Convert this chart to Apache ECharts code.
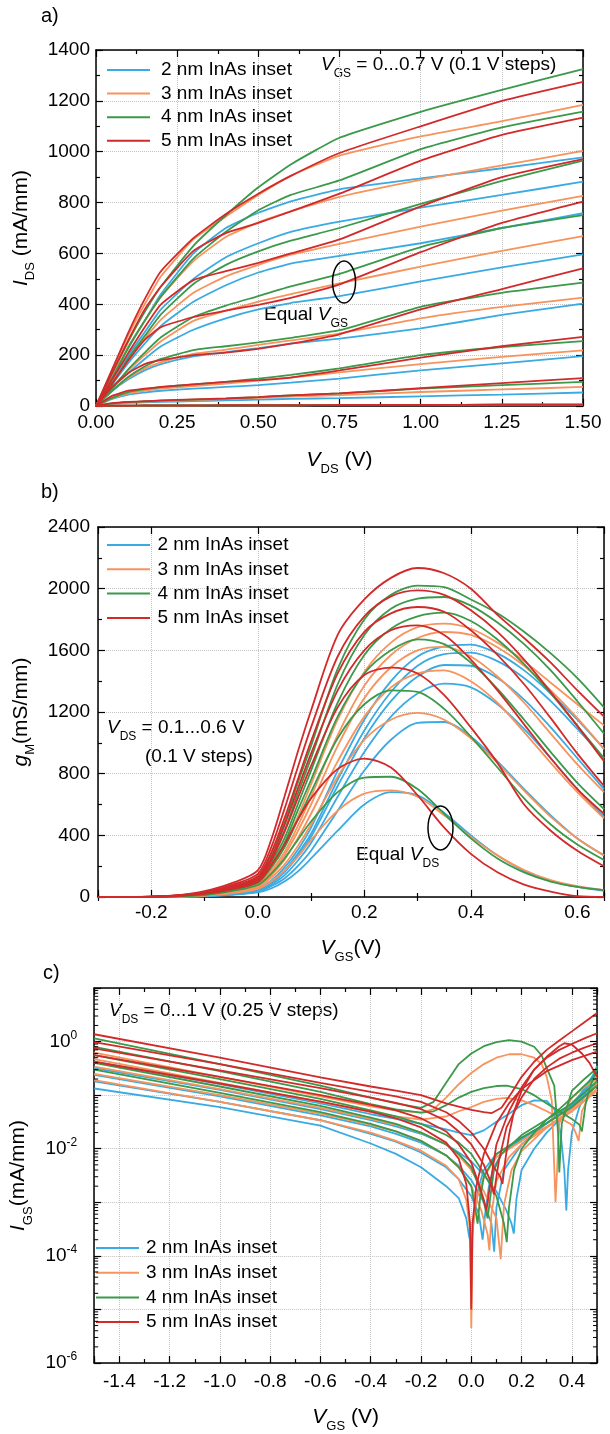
<!DOCTYPE html>
<html>
<head>
<meta charset="utf-8">
<script src="https://cdn.jsdelivr.net/npm/echarts@6/dist/echarts.min.js"></script>
<style>
  html, body { margin: 0; padding: 0; background: #fff; }
  #chart { width: 610px; height: 1434px; }
</style>
</head>
<body>
<div id="chart"></div>
<script>
const FONT = '"Liberation Sans", Arial, Helvetica, sans-serif';
const INK = '#000';
const GRID_LINE = '#c2c2c2';

const insetNames = ['2 nm InAs inset', '3 nm InAs inset', '4 nm InAs inset', '5 nm InAs inset'];
const insetColors = ['#3aabe2', '#f7935c', '#3b994a', '#d22a2a'];

// ---- a) output characteristics, V_GS = 0 ... 0.7 V ----
const vdsSweep = [0, 0.05, 0.1, 0.15, 0.2, 0.3, 0.4, 0.5, 0.6, 0.75, 1.0, 1.25, 1.5];
const idsInset2 = [
  [0, 1, 1, 2, 2, 2, 3, 3, 3, 4, 4, 5, 5],
  [0, 8, 12, 14, 16, 19, 22, 25, 28, 31, 38, 45, 53],
  [0, 28, 45, 53, 60, 68, 75, 82, 92, 108, 140, 168, 196],
  [0, 60, 105, 140, 165, 195, 212, 228, 245, 265, 305, 358, 403],
  [0, 70, 130, 185, 235, 300, 345, 380, 405, 432, 490, 545, 596],
  [0, 85, 170, 245, 315, 410, 475, 525, 560, 590, 640, 700, 758],
  [0, 100, 200, 290, 380, 500, 585, 640, 685, 725, 780, 830, 882],
  [0, 115, 230, 335, 440, 600, 700, 760, 805, 852, 895, 935, 978]
];
const idsInset3 = [
  [0, 1, 1, 2, 2, 2, 3, 3, 3, 4, 4, 5, 5],
  [0, 9, 14, 17, 19, 23, 27, 32, 37, 43, 55, 65, 75],
  [0, 30, 50, 60, 68, 78, 88, 100, 112, 132, 165, 193, 219],
  [0, 62, 110, 148, 172, 205, 222, 240, 258, 285, 345, 390, 426],
  [0, 72, 140, 200, 255, 335, 375, 410, 440, 482, 548, 610, 668],
  [0, 90, 185, 265, 340, 445, 510, 555, 595, 638, 705, 768, 826],
  [0, 115, 235, 335, 430, 570, 665, 722, 765, 822, 889, 946, 1003],
  [0, 140, 280, 400, 510, 655, 745, 830, 905, 985, 1060, 1120, 1184]
];
const idsInset4 = [
  [0, 1, 1, 2, 2, 2, 3, 3, 3, 4, 4, 5, 5],
  [0, 10, 15, 18, 21, 25, 29, 35, 42, 50, 68, 82, 95],
  [0, 32, 55, 66, 74, 85, 95, 108, 122, 148, 200, 232, 255],
  [0, 60, 115, 155, 185, 220, 235, 250, 268, 298, 390, 445, 485],
  [0, 70, 145, 210, 270, 350, 395, 432, 470, 520, 625, 700, 751],
  [0, 85, 190, 275, 360, 480, 555, 608, 650, 700, 795, 885, 965],
  [0, 110, 230, 335, 430, 580, 685, 770, 830, 887, 1010, 1096, 1158],
  [0, 130, 255, 370, 470, 630, 750, 860, 950, 1055, 1157, 1243, 1325]
];
const idsInset5 = [
  [0, 1, 1, 2, 2, 2, 3, 3, 3, 4, 4, 5, 5],
  [0, 11, 16, 19, 22, 26, 30, 35, 42, 50, 70, 90, 110],
  [0, 40, 60, 68, 75, 85, 95, 102, 112, 140, 190, 235, 272],
  [0, 75, 130, 165, 180, 200, 210, 225, 245, 282, 380, 460, 541],
  [0, 90, 180, 260, 310, 350, 375, 398, 425, 478, 605, 720, 804],
  [0, 105, 210, 310, 400, 495, 530, 563, 600, 655, 785, 900, 971],
  [0, 130, 260, 380, 470, 610, 680, 720, 765, 835, 965, 1066, 1134],
  [0, 145, 290, 420, 530, 660, 755, 835, 905, 995, 1100, 1200, 1275]
];

// ---- b) transconductance, V_DS = 0.1 ... 0.6 V ----
const vgsSweep = [-0.3, -0.2, -0.15, -0.1, -0.05, 0, 0.025, 0.05, 0.075, 0.1, 0.15, 0.2, 0.25, 0.3, 0.35, 0.4, 0.45, 0.5, 0.55, 0.6, 0.65];
const gmInset2 = [
  [0, 1, 2, 5, 14, 30, 55, 100, 165, 250, 430, 600, 680, 660, 545, 400, 270, 170, 105, 65, 40],
  [0, 1, 3, 6, 16, 35, 70, 120, 200, 300, 560, 820, 1020, 1130, 1135, 1040, 880, 700, 530, 380, 270],
  [0, 1, 3, 7, 18, 40, 80, 140, 235, 350, 650, 940, 1170, 1320, 1384, 1360, 1250, 1090, 900, 700, 520],
  [0, 1, 3, 8, 20, 45, 90, 160, 265, 390, 720, 1030, 1270, 1430, 1505, 1500, 1420, 1280, 1100, 900, 700],
  [0, 1, 3, 8, 21, 48, 95, 170, 280, 410, 760, 1080, 1330, 1500, 1575, 1585, 1530, 1420, 1270, 1090, 900],
  [0, 1, 3, 9, 24, 54, 105, 190, 305, 450, 820, 1150, 1400, 1560, 1625, 1637, 1580, 1470, 1320, 1150, 960]
];
const gmInset3 = [
  [0, 1, 4, 9, 24, 52, 100, 170, 260, 370, 560, 670, 692, 650, 530, 390, 270, 175, 110, 70, 45],
  [0, 1, 4, 10, 28, 60, 125, 210, 330, 470, 780, 1020, 1150, 1194, 1150, 1030, 870, 690, 520, 380, 270],
  [0, 1, 4, 11, 31, 68, 140, 240, 380, 540, 880, 1170, 1360, 1450, 1470, 1400, 1260, 1070, 870, 680, 510],
  [0, 1, 4, 12, 34, 76, 155, 270, 425, 600, 980, 1290, 1490, 1600, 1622, 1560, 1430, 1260, 1060, 860, 680],
  [0, 1, 5, 14, 38, 82, 170, 290, 460, 650, 1050, 1370, 1570, 1680, 1719, 1700, 1620, 1500, 1340, 1160, 960],
  [0, 1, 5, 16, 42, 92, 190, 330, 520, 730, 1150, 1460, 1650, 1750, 1773, 1740, 1650, 1530, 1390, 1250, 1113]
];
const gmInset4 = [
  [0, 1, 5, 13, 38, 78, 150, 250, 370, 490, 680, 775, 780, 700, 540, 380, 250, 160, 100, 65, 45],
  [0, 1, 5, 16, 45, 92, 190, 320, 500, 680, 1030, 1250, 1340, 1330, 1220, 1040, 840, 640, 470, 340, 240],
  [0, 1, 6, 18, 50, 100, 210, 350, 560, 760, 1170, 1450, 1600, 1671, 1640, 1520, 1350, 1150, 940, 740, 570],
  [0, 1, 6, 20, 54, 108, 225, 380, 600, 820, 1260, 1570, 1740, 1820, 1844, 1790, 1670, 1510, 1320, 1110, 900],
  [0, 2, 7, 23, 60, 120, 250, 430, 670, 900, 1380, 1700, 1870, 1935, 1946, 1890, 1780, 1640, 1470, 1270, 1060],
  [0, 2, 8, 26, 66, 130, 280, 480, 740, 980, 1480, 1800, 1960, 2020, 2010, 1930, 1840, 1720, 1580, 1420, 1230]
];
const gmInset5 = [
  [0, 2, 7, 20, 50, 98, 205, 340, 500, 640, 830, 897, 840, 660, 450, 280, 160, 80, 35, 5, 0],
  [0, 2, 8, 23, 57, 110, 235, 420, 640, 850, 1230, 1440, 1488, 1450, 1310, 1100, 870, 600, 430, 300, 200],
  [0, 2, 9, 26, 62, 122, 255, 465, 700, 930, 1340, 1600, 1730, 1762, 1700, 1540, 1340, 1120, 900, 700, 540],
  [0, 2, 10, 28, 68, 135, 285, 510, 760, 1010, 1450, 1720, 1840, 1881, 1850, 1730, 1570, 1380, 1160, 930, 720],
  [0, 2, 11, 32, 77, 150, 320, 570, 840, 1100, 1560, 1820, 1950, 1989, 1960, 1860, 1720, 1540, 1330, 1110, 880],
  [0, 3, 12, 38, 88, 172, 370, 650, 940, 1210, 1700, 1930, 2070, 2134, 2100, 2000, 1830, 1680, 1520, 1340, 1170]
];

// ---- c) gate current |I_GS| vs V_GS, V_DS = 0 ... 1 V ----
const igsInset2 = [
  [[-1.5,0.133],[-1.0,0.06],[-0.6,0.027],[-0.4,0.0125],[-0.3,0.008],[-0.2,0.0045],[-0.1,0.002],[-0.05,0.0012],[-0.02,0.0005],[-0.01,0.00025],[0,0.00015],[0.01,0.0005],[0.03,0.002],[0.05,0.004],[0.1,0.008],[0.2,0.016],[0.3,0.03],[0.4,0.06],[0.5,0.16]],
  [[-1.5,0.18],[-1.0,0.075],[-0.6,0.034],[-0.4,0.019],[-0.3,0.0135],[-0.2,0.0085],[-0.1,0.0045],[-0.05,0.0027],[0,0.0013],[0.03,0.0006],[0.045,0.0002],[0.055,0.0006],[0.07,0.002],[0.09,0.0045],[0.12,0.008],[0.2,0.015],[0.3,0.03],[0.4,0.065],[0.5,0.18]],
  [[-1.5,0.24],[-1.0,0.095],[-0.6,0.042],[-0.4,0.026],[-0.3,0.019],[-0.2,0.013],[-0.1,0.0075],[-0.05,0.0048],[0,0.0026],[0.05,0.001],[0.08,0.0004],[0.091,0.00012],[0.1,0.0008],[0.13,0.004],[0.2,0.012],[0.3,0.03],[0.4,0.07],[0.5,0.22]],
  [[-1.5,0.32],[-1.0,0.125],[-0.6,0.055],[-0.4,0.034],[-0.3,0.026],[-0.2,0.019],[-0.1,0.012],[-0.05,0.0085],[0,0.0058],[0.05,0.0032],[0.1,0.0016],[0.14,0.0007],[0.16,0.0004],[0.169,0.00026],[0.18,0.0012],[0.2,0.004],[0.25,0.01],[0.3,0.02],[0.4,0.06],[0.5,0.3]],
  [[-1.5,0.42],[-1.0,0.16],[-0.6,0.07],[-0.4,0.044],[-0.3,0.036],[-0.2,0.029],[-0.1,0.023],[-0.05,0.02],[0,0.018],[0.05,0.022],[0.1,0.032],[0.15,0.045],[0.2,0.065],[0.25,0.08],[0.3,0.078],[0.33,0.055],[0.355,0.02],[0.37,0.004],[0.378,0.0007],[0.385,0.004],[0.4,0.02],[0.43,0.06],[0.46,0.13],[0.5,0.35]]
];
const igsInset3 = [
  [[-1.5,0.19],[-1.0,0.075],[-0.6,0.034],[-0.4,0.02],[-0.3,0.014],[-0.2,0.0092],[-0.1,0.0048],[-0.05,0.0027],[-0.02,0.0011],[-0.005,0.0003],[0,0.0000045],[0.005,0.0003],[0.02,0.0011],[0.05,0.003],[0.1,0.007],[0.2,0.014],[0.3,0.026],[0.4,0.05],[0.5,0.12]],
  [[-1.5,0.25],[-1.0,0.1],[-0.6,0.045],[-0.4,0.028],[-0.3,0.021],[-0.2,0.014],[-0.1,0.0075],[-0.05,0.0045],[0,0.002],[0.04,0.0007],[0.065,0.00025],[0.072,0.000126],[0.08,0.0006],[0.1,0.0025],[0.15,0.007],[0.2,0.012],[0.3,0.025],[0.4,0.05],[0.5,0.13]],
  [[-1.5,0.34],[-1.0,0.13],[-0.6,0.058],[-0.4,0.036],[-0.3,0.028],[-0.2,0.02],[-0.1,0.012],[-0.05,0.0075],[0,0.004],[0.05,0.0016],[0.1,0.0005],[0.117,0.000087],[0.13,0.0009],[0.16,0.004],[0.2,0.009],[0.3,0.025],[0.4,0.055],[0.5,0.15]],
  [[-1.5,0.47],[-1.0,0.17],[-0.6,0.075],[-0.4,0.048],[-0.3,0.04],[-0.2,0.035],[-0.1,0.04],[-0.05,0.05],[0,0.06],[0.05,0.075],[0.1,0.085],[0.14,0.089],[0.2,0.08],[0.25,0.065],[0.3,0.05],[0.35,0.038],[0.4,0.028],[0.415,0.02],[0.427,0.014],[0.44,0.05],[0.47,0.1],[0.5,0.17]],
  [[-1.5,0.62],[-1.0,0.22],[-0.6,0.095],[-0.4,0.062],[-0.3,0.052],[-0.2,0.047],[-0.15,0.055],[-0.1,0.09],[-0.05,0.16],[0,0.26],[0.05,0.38],[0.1,0.5],[0.15,0.58],[0.2,0.58],[0.25,0.5],[0.28,0.38],[0.3,0.22],[0.32,0.08],[0.335,0.001],[0.35,0.03],[0.4,0.09],[0.45,0.14],[0.5,0.2]]
];
const igsInset4 = [
  [[-1.5,0.3],[-1.0,0.11],[-0.6,0.048],[-0.4,0.029],[-0.3,0.021],[-0.2,0.014],[-0.1,0.0075],[-0.05,0.0045],[0,0.002],[0.015,0.0008],[0.025,0.0004],[0.035,0.0012],[0.05,0.003],[0.1,0.008],[0.2,0.016],[0.3,0.03],[0.4,0.06],[0.5,0.15]],
  [[-1.5,0.4],[-1.0,0.145],[-0.6,0.063],[-0.4,0.038],[-0.3,0.029],[-0.2,0.02],[-0.1,0.012],[-0.05,0.008],[0,0.0045],[0.03,0.002],[0.05,0.001],[0.065,0.0005],[0.075,0.0012],[0.09,0.004],[0.12,0.008],[0.2,0.018],[0.3,0.035],[0.4,0.07],[0.5,0.18]],
  [[-1.5,0.56],[-1.0,0.2],[-0.6,0.085],[-0.4,0.052],[-0.3,0.04],[-0.2,0.029],[-0.1,0.018],[-0.05,0.013],[0,0.008],[0.05,0.0035],[0.1,0.0013],[0.13,0.0004],[0.141,0.00018],[0.15,0.0008],[0.17,0.004],[0.2,0.01],[0.25,0.02],[0.3,0.035],[0.35,0.055],[0.4,0.09],[0.45,0.15],[0.5,0.25]],
  [[-1.5,0.8],[-1.0,0.28],[-0.6,0.115],[-0.4,0.068],[-0.3,0.054],[-0.2,0.047],[-0.15,0.05],[-0.1,0.065],[-0.05,0.09],[0,0.115],[0.05,0.135],[0.1,0.148],[0.14,0.15],[0.2,0.13],[0.25,0.1],[0.3,0.07],[0.35,0.05],[0.4,0.036],[0.43,0.028],[0.44,0.021],[0.455,0.07],[0.47,0.13],[0.5,0.32]],
  [[-1.5,1.15],[-1.0,0.38],[-0.6,0.15],[-0.4,0.09],[-0.3,0.07],[-0.2,0.058],[-0.15,0.075],[-0.1,0.17],[-0.05,0.38],[0,0.6],[0.05,0.82],[0.1,0.98],[0.15,1.06],[0.2,1.0],[0.25,0.8],[0.28,0.55],[0.3,0.32],[0.33,0.15],[0.345,0.02],[0.35,0.0036],[0.36,0.03],[0.4,0.12],[0.45,0.2],[0.5,0.32]]
];
const igsInset5 = [
  [[-1.5,0.42],[-1.0,0.165],[-0.6,0.076],[-0.4,0.049],[-0.3,0.037],[-0.2,0.025],[-0.1,0.013],[-0.05,0.0065],[-0.02,0.0022],[-0.005,0.0004],[0,0.00001],[0.005,0.0004],[0.02,0.002],[0.05,0.008],[0.1,0.03],[0.15,0.07],[0.2,0.13],[0.3,0.28],[0.4,0.45],[0.5,0.65]],
  [[-1.5,0.56],[-1.0,0.22],[-0.6,0.1],[-0.4,0.066],[-0.3,0.052],[-0.2,0.037],[-0.1,0.021],[-0.05,0.012],[0,0.0055],[0.03,0.0022],[0.05,0.0011],[0.06,0.0007],[0.07,0.0015],[0.08,0.003],[0.1,0.012],[0.15,0.05],[0.2,0.14],[0.25,0.3],[0.3,0.52],[0.35,0.82],[0.37,0.93],[0.4,0.88],[0.44,0.6],[0.47,0.4],[0.5,0.22]],
  [[-1.5,0.75],[-1.0,0.29],[-0.6,0.135],[-0.4,0.09],[-0.3,0.072],[-0.2,0.055],[-0.1,0.033],[-0.05,0.021],[0,0.012],[0.05,0.005],[0.08,0.0022],[0.09,0.0014],[0.1,0.003],[0.11,0.006],[0.14,0.025],[0.2,0.09],[0.25,0.2],[0.3,0.33],[0.35,0.48],[0.4,0.62],[0.45,0.77],[0.5,0.93]],
  [[-1.5,0.98],[-1.0,0.38],[-0.6,0.17],[-0.4,0.115],[-0.3,0.095],[-0.2,0.075],[-0.1,0.048],[-0.05,0.033],[0,0.02],[0.05,0.01],[0.09,0.0045],[0.115,0.003],[0.124,0.0022],[0.135,0.006],[0.15,0.018],[0.17,0.05],[0.2,0.12],[0.25,0.3],[0.3,0.5],[0.35,0.7],[0.4,0.9],[0.45,1.15],[0.5,1.43]],
  [[-1.5,1.37],[-1.0,0.5],[-0.6,0.215],[-0.4,0.145],[-0.3,0.122],[-0.2,0.1],[-0.1,0.07],[0,0.053],[0.05,0.048],[0.08,0.046],[0.12,0.058],[0.16,0.11],[0.2,0.22],[0.25,0.42],[0.3,0.7],[0.35,1.05],[0.4,1.55],[0.45,2.3],[0.5,3.4]]
];

// annotation anchors (data units)
const equalVgsMark = [0.764, 488];
const equalVdsMark = [0.343, 448];

const idsByInset = [idsInset2, idsInset3, idsInset4, idsInset5];
const gmByInset = [gmInset2, gmInset3, gmInset4, gmInset5];
const igsByInset = [igsInset2, igsInset3, igsInset4, igsInset5];

// log-axis minor tick positions (2..9 of every decade)
const igsDecades = [1e-6, 1e-5, 1e-4, 1e-3, 1e-2, 1e-1, 1];
const igsMinorTicks = [];
igsDecades.forEach(d => { for (let k = 2; k <= 9; k++) igsMinorTicks.push(d * k); });

// ---------- styling helpers ----------
function rich(size, subSize, lh) {
  return {
    it: { fontFamily: FONT, fontSize: size, fontStyle: 'italic', color: INK, lineHeight: lh },
    rm: { fontFamily: FONT, fontSize: size, color: INK, lineHeight: lh },
    sub: { fontFamily: FONT, fontSize: subSize, color: INK, verticalAlign: 'bottom' },
    b: { fontFamily: FONT, fontSize: size, color: INK, lineHeight: lh },
    sup: { fontFamily: FONT, fontSize: subSize, color: INK, verticalAlign: 'top' }
  };
}
const nameRich = rich(21, 13, 32);
const noteRich = rich(19, 12, 30);

const axisLine = { show: true, onZero: false, lineStyle: { color: INK, width: 1.5 } };
const majorTick = { show: true, inside: true, length: 7, lineStyle: { color: INK, width: 1.2 } };
const minorTickBar = { show: true, inside: true, length: 4, lineStyle: { color: INK, width: 1.2 } };
const dotted = { show: true, lineStyle: { type: 'dotted', color: GRID_LINE, width: 1 } };
const tickFont = { fontFamily: FONT, fontSize: 19, color: INK };

function onStep(v, step) {
  const q = v / step;
  return Math.abs(q - Math.round(q)) < 1e-6;
}
function fmt(v, d) {
  return (Math.abs(v) < 1e-9 ? 0 : v).toFixed(d);
}

function baseAxis(extra) {
  return Object.assign({
    type: 'value',
    axisLine: axisLine,
    axisTick: majorTick,
    minorTick: { show: false },
    splitLine: { show: false },
    axisLabel: { show: false }
  }, extra);
}

// ---------- axes ----------
const xAxes = [
  // a)
  baseAxis({ gridIndex: 0, position: 'bottom', min: 0, max: 1.5, interval: 0.25,
    minorTick: Object.assign({ splitNumber: 2 }, minorTickBar), splitLine: dotted,
    axisLabel: Object.assign({ show: true, margin: 7, formatter: v => fmt(v, 2) }, tickFont),
    name: '{it|V}{sub|DS}{rm| (V)}', nameLocation: 'middle', nameGap: 38,
    nameTextStyle: { rich: nameRich } }),
  baseAxis({ gridIndex: 0, position: 'top', min: 0, max: 1.5, interval: 0.25,
    minorTick: Object.assign({ splitNumber: 2 }, minorTickBar) }),
  // b)
  baseAxis({ gridIndex: 1, position: 'bottom', min: -0.3, max: 0.65, splitNumber: 5, splitLine: dotted,
    axisLabel: Object.assign({ show: true, margin: 6, formatter: v => onStep(v, 0.2) ? fmt(v, 1) : '' }, tickFont),
    name: '{it|V}{sub|GS}{rm|(V)}', nameLocation: 'middle', nameGap: 35,
    nameTextStyle: { rich: nameRich } }),
  baseAxis({ gridIndex: 1, position: 'bottom', min: -0.3, max: 0.65, interval: 0.2,
    axisLine: { show: false }, axisTick: minorTickBar }),
  baseAxis({ gridIndex: 1, position: 'top', min: -0.3, max: 0.65, splitNumber: 5 }),
  baseAxis({ gridIndex: 1, position: 'top', min: -0.3, max: 0.65, interval: 0.2,
    axisLine: { show: false }, axisTick: minorTickBar }),
  // c)
  baseAxis({ gridIndex: 2, position: 'bottom', min: -1.5, max: 0.5, splitNumber: 10, splitLine: dotted,
    axisLabel: Object.assign({ show: true, margin: 9, formatter: v => onStep(v, 0.2) ? fmt(v, 1) : '' }, tickFont),
    name: '{it|V}{sub|GS}{rm| (V)}', nameLocation: 'middle', nameGap: 38,
    nameTextStyle: { rich: nameRich } }),
  baseAxis({ gridIndex: 2, position: 'bottom', min: -1.5, max: 0.5, interval: 0.2,
    axisLine: { show: false }, axisTick: minorTickBar }),
  baseAxis({ gridIndex: 2, position: 'top', min: -1.5, max: 0.5, splitNumber: 10 }),
  baseAxis({ gridIndex: 2, position: 'top', min: -1.5, max: 0.5, interval: 0.2,
    axisLine: { show: false }, axisTick: minorTickBar })
];

const yAxes = [
  // a)
  baseAxis({ gridIndex: 0, position: 'left', min: 0, max: 1400, interval: 200,
    minorTick: Object.assign({ splitNumber: 2 }, minorTickBar), splitLine: dotted,
    axisLabel: Object.assign({ show: true, margin: 6, formatter: v => String(v) }, tickFont),
    name: '{it|I}{sub|DS}{rm| (mA/mm)}', nameLocation: 'middle', nameRotate: 90, nameGap: 48,
    nameTextStyle: { rich: nameRich } }),
  baseAxis({ gridIndex: 0, position: 'right', min: 0, max: 1400, interval: 200,
    minorTick: Object.assign({ splitNumber: 2 }, minorTickBar) }),
  // b)
  baseAxis({ gridIndex: 1, position: 'left', min: 0, max: 2400, interval: 400,
    minorTick: Object.assign({ splitNumber: 2 }, minorTickBar), splitLine: dotted,
    axisLabel: Object.assign({ show: true, margin: 8, formatter: v => String(v) }, tickFont),
    name: '{it|g}{sub|M}{rm|(mS/mm)}', nameLocation: 'middle', nameRotate: 90, nameGap: 50,
    nameTextStyle: { rich: nameRich } }),
  baseAxis({ gridIndex: 1, position: 'right', min: 0, max: 2400, interval: 400,
    minorTick: Object.assign({ splitNumber: 2 }, minorTickBar) }),
  // c)
  baseAxis({ gridIndex: 2, type: 'log', logBase: 10, position: 'left', min: 1e-6, max: 10, splitLine: dotted,
    axisLabel: { show: true, margin: 17, rich: rich(19, 12, 24),
      formatter: v => {
        const e = Math.round(Math.log10(v));
        return (e <= 0 && e % 2 === 0) ? '{b|10}{sup|' + e + '}' : '';
      } },
    name: '{it|I}{sub|GS}{rm|(mA/mm)}', nameLocation: 'middle', nameRotate: 90, nameGap: 38,
    nameTextStyle: { rich: nameRich } }),
  baseAxis({ gridIndex: 2, type: 'log', logBase: 10, position: 'right', min: 1e-6, max: 10 })
];

// ---------- series ----------
const series = [];
const lineBase = { type: 'line', symbol: 'none', showSymbol: false, silent: true };

idsByInset.forEach((curves, k) => {
  curves.forEach(c => series.push(Object.assign({}, lineBase, {
    name: insetNames[k], xAxisIndex: 0, yAxisIndex: 0, smooth: 0.15,
    data: vdsSweep.map((x, i) => [x, c[i]]),
    lineStyle: { width: 1.8, color: insetColors[k] }, itemStyle: { color: insetColors[k] }
  })));
});
gmByInset.forEach((curves, k) => {
  curves.forEach(c => series.push(Object.assign({}, lineBase, {
    name: insetNames[k], xAxisIndex: 2, yAxisIndex: 2, smooth: 0.3,
    data: vgsSweep.map((x, i) => [x, c[i]]),
    lineStyle: { width: 1.8, color: insetColors[k] }, itemStyle: { color: insetColors[k] }
  })));
});
igsByInset.forEach((curves, k) => {
  curves.forEach(c => series.push(Object.assign({}, lineBase, {
    name: insetNames[k], xAxisIndex: 6, yAxisIndex: 4, smooth: false,
    data: c,
    lineStyle: { width: 1.8, color: insetColors[k] }, itemStyle: { color: insetColors[k] }
  })));
});

// "Equal ..." ellipses
function ellipseSeries(xi, yi, anchor, rx, ry) {
  return {
    type: 'custom', xAxisIndex: xi, yAxisIndex: yi, silent: true, clip: false, z: 5,
    data: [anchor],
    renderItem: (params, api) => {
      const c = api.coord([api.value(0), api.value(1)]);
      return { type: 'ellipse', shape: { cx: c[0], cy: c[1], rx: rx, ry: ry },
        style: { fill: 'none', stroke: INK, lineWidth: 1.5 } };
    }
  };
}
series.push(ellipseSeries(0, 0, equalVgsMark, 11.5, 21));
series.push(ellipseSeries(2, 2, equalVdsMark, 12.5, 22));

// logarithmic minor ticks on both vertical edges of c)
series.push({
  type: 'custom', xAxisIndex: 6, yAxisIndex: 4, silent: true, clip: false, z: 6,
  data: igsMinorTicks.map(v => [-1.5, v]),
  renderItem: (params, api) => {
    const y = api.coord([-1.5, api.value(1)])[1];
    const xl = api.coord([-1.5, 1])[0];
    const xr = api.coord([0.5, 1])[0];
    return { type: 'group', children: [
      { type: 'line', shape: { x1: xl, y1: y, x2: xl + 4, y2: y }, style: { stroke: INK, lineWidth: 1 } },
      { type: 'line', shape: { x1: xr - 4, y1: y, x2: xr, y2: y }, style: { stroke: INK, lineWidth: 1 } }
    ] };
  }
});

// ---------- legends ----------
function legendAt(left, top, gap, textPad) {
  return {
    data: insetNames, orient: 'vertical', left: left, top: top, padding: 0,
    icon: 'rect', itemWidth: 43, itemHeight: 2, itemGap: gap, selectedMode: false,
    textStyle: { fontFamily: FONT, fontSize: 19, color: INK, lineHeight: 20, padding: [0, 0, 0, textPad] }
  };
}

// ---------- free text ----------
function note(x, y, text, size) {
  return { type: 'text', x: x, y: y, silent: true,
    style: { text: text, fontFamily: FONT, fontSize: size || 19, fill: INK,
      verticalAlign: 'middle', align: 'left', rich: noteRich } };
}

const chart = echarts.init(document.getElementById('chart'), null, { renderer: 'canvas' });
chart.setOption({
  animation: false,
  backgroundColor: '#fff',
  textStyle: { fontFamily: FONT },
  grid: [
    { left: 96, top: 50, width: 487, height: 356 },
    { left: 98, top: 527, width: 506, height: 370 },
    { left: 86, top: 988, width: 511, height: 375 }
  ],
  xAxis: xAxes,
  yAxis: yAxes,
  legend: [
    legendAt(107, 60, 3.6, 6),
    legendAt(107, 535, 4.3, 2.5),
    legendAt(96, 1238, 4.7, 2)
  ],
  graphic: [
    note(41, 16, 'a)', 20),
    note(41, 492, 'b)', 20),
    note(43, 973, 'c)', 20),
    note(321, 65, '{it|V}{sub|GS}{rm| = 0...0.7 V (0.1 V steps)}'),
    note(264, 315, '{rm|Equal }{it|V}{sub|GS}'),
    note(107, 728, '{it|V}{sub|DS}{rm| = 0.1...0.6 V}'),
    note(145, 757, '(0.1 V steps)'),
    note(356, 855, '{rm|Equal }{it|V}{sub|DS}'),
    note(109, 1011, '{it|V}{sub|DS}{rm| = 0...1 V (0.25 V steps)}')
  ],
  series: series
});
</script>
</body>
</html>
